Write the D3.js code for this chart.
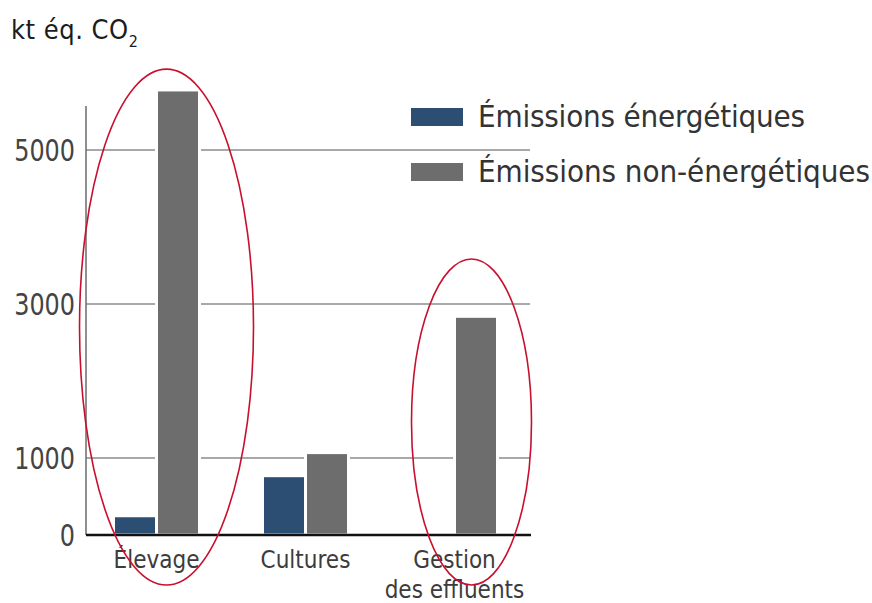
<!DOCTYPE html>
<html>
<head>
    <meta charset="utf-8" />
    <title>Émissions agricoles</title>
    <style>
        html, body {
            margin: 0;
            padding: 0;
            background-color: #fff;
        }
        svg text {
            font-family: "Liberation Sans Narrow", "DejaVu Sans Condensed", sans-serif;
            font-stretch: condensed;
        }
    </style>
</head>
<body>
    <div class="canvas"></div>
    <script src="https://d3js.org/d3.v7.min.js"></script>
    <script>
        // data (kt éq. CO2)
        var categories = ["Élevage", "Cultures", "Gestion des effluents"];
        var categoryLines = [["Élevage"], ["Cultures"], ["Gestion", "des effluents"]];
        var series = ["Émissions énergétiques", "Émissions non-énergétiques"];
        var energetiques = [250, 770, 0];
        var nonEnergetiques = [5780, 1070, 2840];
        var yTicks = [0, 1000, 3000, 5000];
        var gridTicks = [1000, 3000, 5000];
        var colors = ["#2c4e72", "#6d6d6d"];

        // red circles drawn over the chart (value range top/bottom)
        var highlights = [
            { cat: "Élevage", top: 6050, bottom: -650, rx: 87, dx: 10 },
            { cat: "Gestion des effluents", top: 3585, bottom: -650, rx: 60, dx: 17 }
        ];

        var width = 872, height = 603;
        var left = 86, right = 530, bottom = 535;

        var svg = d3.select(".canvas")
            .append("svg")
            .attr("width", width)
            .attr("height", height);

        var x0 = d3.scaleBand()
            .domain(categories)
            .range([left, 525])
            .paddingInner(0.4228)
            .paddingOuter(0.1846);

        var x1 = d3.scaleBand()
            .domain(series)
            .range([0, x0.bandwidth()]);

        var y = d3.scaleLinear()
            .domain([0, 5000])
            .range([bottom, 150]);

        // grid lines
        svg.append("g")
            .selectAll("line")
            .data(gridTicks)
            .join("line")
            .attr("x1", left)
            .attr("x2", right)
            .attr("y1", function(d) { return y(d); })
            .attr("y2", function(d) { return y(d); })
            .attr("stroke", "#8c8c8c")
            .attr("stroke-width", 1.5);

        // left axis line
        svg.append("line")
            .attr("x1", left).attr("x2", left)
            .attr("y1", 106).attr("y2", bottom)
            .attr("stroke", "#6a6a6a")
            .attr("stroke-width", 1.5);

        // tick labels (narrow digits like the original)
        svg.append("g")
            .selectAll("text")
            .data(yTicks)
            .join("text")
            .attr("x", 75)
            .attr("y", function(d) { return y(d); })
            .attr("dy", "0.36em")
            .attr("text-anchor", "end")
            .attr("font-size", 31)
            .attr("fill", "#444")
            .attr("textLength", function(d) { return String(d).length * 15.2; })
            .attr("lengthAdjust", "spacingAndGlyphs")
            .text(function(d) { return d; });

        // bars
        var rows = categories.map(function(c, i) {
            return { cat: c, values: [energetiques[i], nonEnergetiques[i]] };
        });

        var groups = svg.append("g")
            .selectAll("g")
            .data(rows)
            .join("g")
            .attr("transform", function(d) { return "translate(" + x0(d.cat) + ",0)"; });

        groups.selectAll("rect")
            .data(function(d) {
                return d.values.map(function(v, j) { return { s: series[j], v: v, j: j }; })
                    .filter(function(e) { return e.v > 0; });
            })
            .join("rect")
            .attr("x", function(d) { return x1(d.s); })
            .attr("width", x1.bandwidth())
            .attr("y", function(d) { return y(d.v); })
            .attr("height", function(d) { return y(0) - y(d.v); })
            .attr("fill", function(d) { return colors[d.j]; })
            .attr("stroke", "#fff")
            .attr("stroke-width", 3);

        // base line
        svg.append("line")
            .attr("x1", left).attr("x2", right + 1)
            .attr("y1", bottom).attr("y2", bottom)
            .attr("stroke", "#111")
            .attr("stroke-width", 2.5);

        // category labels
        var labels = svg.append("g")
            .selectAll("text")
            .data(categories)
            .join("text")
            .attr("text-anchor", "middle")
            .attr("font-size", 24)
            .attr("fill", "#3c3c3c");

        labels.selectAll("tspan")
            .data(function(d, i) {
                return categoryLines[i].map(function(t) { return { t: t, c: d }; });
            })
            .join("tspan")
            .attr("x", function(d) { return x0(d.c) + x0.bandwidth() / 2; })
            .attr("y", function(d, k) { return 568 + k * 30; })
            .text(function(d) { return d.t; });

        // title
        var title = svg.append("text")
            .attr("x", 11)
            .attr("y", 39)
            .attr("font-size", 27)
            .attr("letter-spacing", 0.5)
            .attr("fill", "#1c1c1c");
        title.append("tspan").text("kt éq. CO");
        title.append("tspan").attr("font-size", 16).attr("dy", 8).text("2");

        // legend
        var legend = svg.append("g")
            .selectAll("g")
            .data(series)
            .join("g")
            .attr("transform", function(d, i) { return "translate(411," + (108 + i * 55) + ")"; });

        legend.append("rect")
            .attr("width", 52)
            .attr("height", 18)
            .attr("fill", function(d, i) { return colors[i]; });

        legend.append("text")
            .attr("x", 67)
            .attr("y", 19)
            .attr("font-size", 31)
            .attr("fill", "#333")
            .attr("textLength", function(d, i) { return i == 0 ? 327 : 392; })
            .attr("lengthAdjust", "spacing")
            .text(function(d) { return d; });

        // highlight ellipses
        svg.append("g")
            .selectAll("ellipse")
            .data(highlights)
            .join("ellipse")
            .attr("cx", function(d) { return x0(d.cat) + x0.bandwidth() / 2 + d.dx; })
            .attr("cy", function(d) { return (y(d.top) + y(d.bottom)) / 2; })
            .attr("rx", function(d) { return d.rx; })
            .attr("ry", function(d) { return (y(d.bottom) - y(d.top)) / 2; })
            .attr("fill", "none")
            .attr("stroke", "#c8102e")
            .attr("stroke-width", 1.6);
    </script>
</body>
</html>
